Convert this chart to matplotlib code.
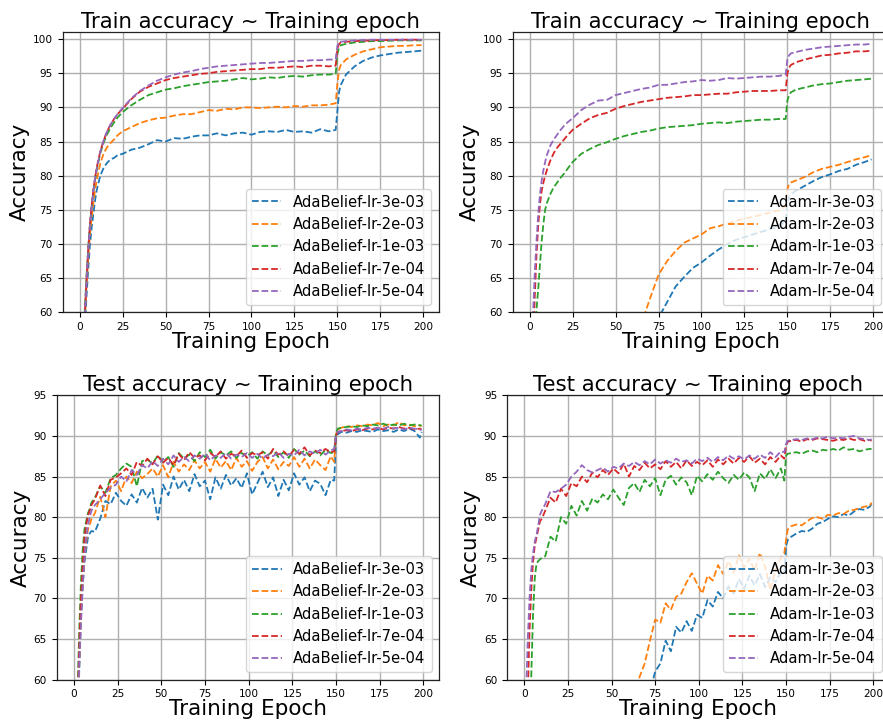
import matplotlib
matplotlib.use("Agg")
import matplotlib.pyplot as plt

train_ep = [0, 1, 2, 3, 4, 5, 6, 7, 8, 9, 10, 12, 14, 16, 18, 20, 22, 25,
            30, 35, 40, 45, 50, 55, 60, 65, 70, 75, 80, 85, 90, 95, 100, 105,
            110, 115, 120, 125, 130, 135, 140, 145, 149, 150, 151, 152,
            155, 160, 165, 170, 175, 180, 185, 190, 195, 199]
test_ep = (list(range(0, 11)) + list(range(12, 148, 3)) + [149, 150, 151]
           + list(range(153, 199, 3)) + [199])

ab_labels = ["AdaBelief-lr-3e-03", "AdaBelief-lr-2e-03", "AdaBelief-lr-1e-03",
             "AdaBelief-lr-7e-04", "AdaBelief-lr-5e-04"]
adam_labels = ["Adam-lr-3e-03", "Adam-lr-2e-03", "Adam-lr-1e-03",
               "Adam-lr-7e-04", "Adam-lr-5e-04"]

# ---- AdaBelief train accuracy ----
ab_train_3e3 = [30, 44, 52, 57.5, 62.5, 66.5, 70, 72.5, 74.5, 76.5, 78, 80, 81.2, 81.9, 82.4, 82.6, 83.0, 83.2,
                83.8, 84.1, 84.6, 85.2, 85.0, 85.5, 85.4, 85.7, 85.9, 85.9, 86.2, 85.9, 86.2, 86.3, 86.0, 86.4,
                86.5, 86.4, 86.7, 86.4, 86.5, 86.3, 86.8, 86.5, 86.7, 89.5, 92.3, 93.3,
                94.8, 96.0, 96.8, 97.3, 97.6, 97.8, 98.0, 98.1, 98.2, 98.3]
ab_train_2e3 = [32, 46, 53.5, 59, 64, 68, 71.5, 74, 76, 78, 79.5, 81.8, 83.3, 84.2, 84.8, 85.3, 85.9, 86.5,
                87.1, 87.7, 88.1, 88.4, 88.5, 88.8, 89.0, 89.0, 89.3, 89.6, 89.5, 89.8, 89.7, 90.0, 90.0, 89.9,
                90.0, 90.1, 90.0, 90.2, 90.1, 90.3, 90.3, 90.4, 90.6, 93.5, 95.5, 96.2,
                97.0, 97.7, 98.2, 98.5, 98.8, 98.9, 99.0, 99.0, 99.1, 99.1]
ab_train_1e3 = [33, 47, 55, 60.5, 65.5, 69.5, 73, 75.5, 77.8, 79.5, 81, 83.3, 84.9, 86.1, 87.0, 87.8, 88.5, 89.3,
                90.3, 91.1, 91.8, 92.2, 92.6, 92.8, 93.1, 93.3, 93.5, 93.7, 93.8, 93.9, 94.1, 94.3, 94.1, 94.2,
                94.4, 94.3, 94.5, 94.6, 94.5, 94.7, 94.8, 94.8, 94.9, 97.8, 98.8, 99.1,
                99.3, 99.5, 99.6, 99.7, 99.7, 99.75, 99.8, 99.8, 99.8, 99.8]
ab_train_7e4 = [31, 46, 54.5, 60, 65, 69.5, 73, 75.8, 78, 79.8, 81.3, 83.6, 85.2, 86.5, 87.5, 88.3, 89.0, 89.8,
                91.2, 92.3, 93.0, 93.5, 94.0, 94.3, 94.5, 94.7, 94.9, 95.0, 95.2, 95.3, 95.4, 95.5, 95.6, 95.6,
                95.8, 95.8, 95.9, 96.0, 95.9, 96.1, 96.1, 96.0, 96.1, 98.6, 99.3, 99.5,
                99.6, 99.7, 99.75, 99.8, 99.85, 99.85, 99.9, 99.9, 99.9, 99.9]
ab_train_5e4 = [30, 45, 54, 59.5, 64.8, 69.2, 72.8, 75.6, 77.9, 79.7, 81.2, 83.5, 85.2, 86.5, 87.5, 88.3, 89.0, 89.9,
                91.3, 92.4, 93.2, 93.9, 94.4, 94.8, 95.1, 95.3, 95.6, 95.8, 96.0, 96.1, 96.2, 96.3, 96.4, 96.5,
                96.5, 96.6, 96.7, 96.8, 96.8, 96.9, 96.9, 97.0, 97.0, 99.0, 99.5, 99.6,
                99.7, 99.8, 99.85, 99.9, 99.9, 99.9, 99.9, 99.9, 99.9, 99.9]

# ---- Adam train accuracy ----
adam_train_3e3 = [10, 15, 19, 22, 24, 26, 27.5, 29, 30, 31, 32, 33.5, 35, 36, 37, 38, 39, 40,
                  42, 44, 46, 48, 50, 52, 54, 56, 57.5, 59.2, 61.5, 63.8, 65.2, 66.5, 67.3, 68.3,
                  69.2, 70.0, 70.6, 71.0, 71.4, 71.8, 72.2, 72.5, 73.5, 76.0, 77.0, 77.3,
                  77.8, 78.5, 79.2, 79.8, 80.2, 80.7, 81.0, 81.6, 82.0, 82.4]
adam_train_2e3 = [10, 16, 20, 23, 25, 27, 28.5, 30, 31, 32, 33, 35, 36.5, 38, 39, 40, 41, 42.5,
                  45, 47, 49, 51, 53, 55, 56.5, 58.3, 62.0, 65.5, 67.5, 69.0, 70.2, 70.8, 71.4, 72.3,
                  72.6, 73.0, 73.4, 73.7, 74.0, 74.3, 74.6, 74.9, 75.5, 78.0, 78.8, 79.0,
                  79.3, 79.8, 80.5, 81.0, 81.3, 81.6, 82.0, 82.4, 82.7, 83.0]
adam_train_1e3 = [20, 35, 45, 52, 60.5, 63.5, 67, 70.5, 73, 75, 76, 77.3, 78.3, 79.0, 79.7, 80.3, 81.0, 82.0,
                  83.2, 83.9, 84.5, 84.9, 85.4, 85.8, 86.1, 86.4, 86.6, 86.9, 87.1, 87.2, 87.3, 87.4, 87.6, 87.7,
                  87.8, 87.7, 87.9, 88.0, 88.1, 88.2, 88.2, 88.3, 88.3, 91.0, 91.8, 92.2,
                  92.6, 92.9, 93.2, 93.4, 93.5, 93.7, 93.9, 94.0, 94.1, 94.2]
adam_train_7e4 = [20, 40, 56, 62.5, 68.5, 72.8, 75.8, 77.8, 79.0, 80.0, 80.8, 82.2, 83.3, 84.1, 84.7, 85.3, 85.9, 86.7,
                  87.6, 88.4, 88.9, 89.2, 89.8, 90.2, 90.5, 90.8, 91.0, 91.2, 91.4, 91.5, 91.6, 91.8, 91.8, 91.9,
                  92.0, 92.0, 92.2, 92.3, 92.4, 92.4, 92.4, 92.5, 92.5, 95.0, 95.8, 96.2,
                  96.6, 97.0, 97.3, 97.6, 97.7, 97.9, 98.0, 98.2, 98.2, 98.3]
adam_train_5e4 = [20, 42, 60, 66, 70.5, 74.5, 77.3, 79.3, 80.8, 82.0, 83.0, 84.4, 85.3, 86.0, 86.7, 87.3, 87.8, 88.4,
                  89.6, 90.4, 91.0, 91.1, 91.8, 92.1, 92.4, 92.7, 92.9, 93.3, 93.3, 93.5, 93.7, 93.8, 94.0, 93.9,
                  94.0, 94.3, 94.2, 94.3, 94.4, 94.5, 94.5, 94.6, 94.8, 97.0, 97.6, 97.9,
                  98.1, 98.4, 98.6, 98.8, 98.9, 99.0, 99.1, 99.2, 99.2, 99.3]

# ---- AdaBelief test accuracy ----
ab_test_3e3 = [20, 38, 52, 61, 67.5, 71.5, 74.5, 76, 77.5, 78, 78.3,
               78.2, 79.8, 82.0, 81.6, 83.0, 82.0, 81.4, 82.8, 81.8, 83.6,
               82.4, 83.5, 79.7, 84.0, 82.7, 85.0, 83.4, 84.6, 83.2, 85.3,
               83.8, 84.5, 82.2, 84.9, 83.5, 85.2, 83.9, 84.8, 83.6, 85.4,
               82.8, 84.2, 85.6, 83.7, 84.9, 82.6, 84.6, 83.3, 85.4, 84.0,
               84.9, 83.2, 84.5, 84.1, 82.7, 84.6,
               84.5, 89.6, 90.2,
               90.5, 90.4, 90.6, 90.5, 90.7, 90.6, 90.5, 90.8, 90.6, 90.7, 90.5, 90.8, 90.6, 90.9, 90.6, 89.8, 90.5]
ab_test_2e3 = [20, 38, 53, 62, 68, 72, 75, 77, 78.5, 79, 79.8,
               80.5, 82.5, 80.0, 83.8, 84.5, 83.2, 85.0, 84.2, 85.6, 84.8,
               85.3, 86.0, 85.0, 86.4, 84.9, 86.8, 85.6, 86.5, 85.8, 87.0,
               86.0, 86.8, 85.6, 87.2, 86.1, 86.9, 85.8, 87.3, 86.2, 86.9,
               85.7, 86.8, 87.4, 86.0, 87.1, 85.9, 86.8, 86.3, 87.4, 86.2,
               87.2, 86.0, 87.1, 86.4, 85.8, 87.5,
               86.8, 90.2, 90.8,
               91.0, 91.2, 91.1, 91.3, 91.2, 91.4, 91.3, 91.6, 91.2, 91.4, 91.3, 91.7, 91.3, 91.4, 91.2, 91.3, 91.2]
ab_test_1e3 = [22, 42, 58, 66, 72, 76, 78.5, 79.5, 80.5, 81, 81.8,
               82.4, 83.8, 83.0, 84.8, 85.2, 86.0, 86.6, 86.2, 83.8, 86.9,
               87.1, 86.6, 87.6, 86.8, 87.4, 86.2, 87.9, 87.2, 87.7, 86.9,
               88.0, 87.4, 88.3, 87.2, 88.0, 87.6, 88.1, 87.3, 87.9, 87.5,
               88.0, 87.2, 88.1, 87.6, 88.2, 87.4, 88.0, 87.3, 88.4, 87.7,
               88.2, 87.5, 88.1, 87.6, 88.3, 87.9,
               88.0, 90.4, 90.9,
               91.0, 91.1, 91.2, 91.1, 91.3, 91.2, 91.4, 91.3, 91.5, 91.3, 91.4, 91.3, 91.5, 91.3, 91.4, 91.3, 91.3]
ab_test_7e4 = [21, 40, 56, 64, 70, 74, 77.5, 79, 80.2, 80.8, 81.5,
               82.2, 83.9, 82.6, 84.6, 84.9, 85.4, 86.0, 85.2, 86.8, 86.3,
               87.2, 86.5, 87.5, 86.7, 87.3, 86.4, 87.8, 87.0, 88.0, 87.3,
               87.6, 87.0, 87.9, 87.4, 88.1, 87.2, 87.8, 87.5, 88.2, 87.3,
               87.9, 87.6, 88.0, 87.2, 88.4, 87.7, 88.1, 87.5, 88.3, 87.8,
               88.6, 87.6, 88.2, 87.9, 88.4, 88.0,
               88.1, 90.0, 90.5,
               90.6, 90.7, 90.6, 90.8, 90.7, 90.9, 90.8, 91.0, 90.8, 91.0, 90.9, 91.1, 90.9, 91.0, 90.8, 90.9, 90.8]
ab_test_5e4 = [20, 38, 54, 62, 67, 71.5, 75, 77.5, 79, 80, 80.8,
               81.5, 82.2, 83.0, 83.6, 84.0, 85.0, 84.4, 85.8, 85.2, 86.4,
               86.0, 86.9, 86.3, 87.2, 86.5, 87.6, 86.8, 87.4, 86.9, 87.6,
               87.2, 87.8, 87.0, 87.6, 87.3, 87.9, 87.2, 87.7, 87.4, 87.9,
               87.3, 87.8, 87.2, 87.7, 87.5, 88.0, 87.3, 87.8, 87.6, 88.3,
               87.6, 88.1, 87.8, 88.3, 87.7, 88.2,
               88.4, 90.1, 90.5,
               90.6, 90.8, 90.7, 90.9, 90.8, 91.0, 90.9, 91.0, 90.9, 91.1, 90.9, 91.0, 90.8, 91.0, 90.9, 90.8, 90.7]

# ---- Adam test accuracy ----
adam_test_3e3 = [10, 12, 14, 15.5, 17, 18, 19, 20, 21, 21.5, 22,
                 23.5, 25, 26.5, 28, 29.5, 31, 32.5, 34, 35.5, 37,
                 38.5, 40, 41.5, 43, 44.5, 46, 48, 50, 52.5, 55.5,
                 58.5, 61.0, 62.0, 64.8, 63.5, 66.5, 65.8, 67.2, 66.0, 68.0,
                 67.6, 69.8, 69.0, 70.8, 70.0, 71.5, 70.6, 72.4, 71.2, 72.8,
                 71.6, 73.0, 71.4, 72.6, 72.0, 73.2,
                 73.0, 76.5, 77.2,
                 77.6, 78.0, 78.3, 78.2, 78.6, 79.2, 79.4, 79.8, 80.1, 80.0, 80.4, 80.2, 80.7, 81.0, 80.9, 81.3, 81.6]
adam_test_2e3 = [10, 12.5, 15, 17, 19, 20.5, 22, 23, 24, 25, 26,
                 27.5, 29.5, 31, 32.5, 34, 35.5, 37, 38.5, 40, 41.5,
                 43, 44.5, 46, 48, 50, 52, 54.5, 57.5, 60.3, 62.0,
                 64.8, 67.4, 67.0, 69.4, 68.6, 70.2, 70.6, 72.0, 73.1, 71.8,
                 70.6, 72.8, 72.2, 74.1, 73.0, 74.6, 73.2, 75.3, 73.8, 74.9,
                 73.4, 75.6, 73.9, 71.0, 73.6, 75.0,
                 75.6, 77.2, 78.5,
                 78.9, 79.1, 79.0, 79.5, 79.9, 80.0, 79.8, 80.3, 80.2, 80.5, 80.4, 80.8, 80.9, 81.1, 81.3, 81.4, 81.8]
adam_test_1e3 = [20, 35, 45, 53, 60.5, 68, 72.5, 74.3, 74.6, 74.8, 75.0,
                 75.2, 77.6, 77.0, 80.0, 79.2, 81.4, 80.2, 82.0, 80.8, 82.3,
                 81.8, 82.8, 82.2, 83.4, 82.4, 81.5, 83.6, 84.2, 83.1, 84.6,
                 83.8, 84.8, 82.7, 84.6, 85.1, 84.0, 84.9, 84.3, 82.7, 85.1,
                 84.4, 85.3, 84.6, 85.6, 84.8, 84.2, 85.2, 84.6, 85.5, 84.9,
                 83.2, 85.4, 84.7, 85.9, 84.8, 86.0,
                 84.5, 87.6, 87.8,
                 87.9, 88.0, 87.8, 88.1, 88.2, 88.0, 88.3, 88.2, 88.4, 88.2, 88.6, 88.3, 88.4, 88.1, 88.3, 88.4, 88.4]
adam_test_7e4 = [20, 45, 58, 66, 71, 74.5, 76.5, 77.5, 78.5, 79.5, 79.8,
                 80.8, 82.4, 81.8, 83.5, 82.6, 84.2, 83.8, 85.0, 84.3, 85.5,
                 84.9, 85.8, 85.2, 86.0, 85.4, 86.6, 85.0, 86.3, 85.8, 86.7,
                 86.0, 86.5, 85.9, 86.9, 86.2, 86.8, 86.0, 87.0, 86.3, 86.8,
                 86.4, 87.0, 86.2, 87.1, 86.5, 87.2, 86.6, 87.3, 86.8, 87.5,
                 86.7, 87.2, 86.5, 87.4, 86.8, 87.6,
                 87.2, 88.8, 89.3,
                 89.4, 89.5, 89.3, 89.6, 89.5, 89.7, 89.6, 89.5, 89.4, 89.6, 89.5, 89.7, 89.5, 89.6, 89.4, 89.5, 89.4]
adam_test_5e4 = [30, 58, 65, 70, 73.5, 75.5, 77.0, 77.8, 79, 80.3, 80.8,
                 81.6, 83.2, 83.1, 83.5, 84.0, 85.0, 85.6, 86.4, 85.8, 85.5,
                 85.8, 86.1, 85.6, 86.2, 86.0, 86.6, 86.3, 86.8, 86.4, 86.9,
                 86.5, 87.1, 86.6, 87.0, 86.7, 87.2, 86.8, 87.0, 86.6, 87.2,
                 86.9, 87.3, 86.8, 87.4, 87.0, 87.6, 87.2, 87.5, 87.1, 87.6,
                 87.2, 87.7, 87.3, 88.0, 87.4, 88.1,
                 88.0, 89.0, 89.4,
                 89.5, 89.6, 89.5, 89.7, 89.6, 89.8, 89.7, 89.9, 89.7, 89.8, 89.7, 89.9, 90.0, 89.7, 89.6, 89.5, 89.6]

colors = ["#1f77b4", "#ff7f0e", "#2ca02c", "#d62728", "#9467bd"]


def draw_panel(ax, ep, series, labels, title, ylim, yticks):
    for vals, lab, c in zip(series, labels, colors):
        ax.plot(ep, vals, linestyle="--", color=c, lw=1.3, label=lab)
    ax.set_xlim(-9.95, 208.95)
    ax.set_ylim(*ylim)
    ax.set_xticks(range(0, 201, 25))
    ax.set_yticks(yticks)
    ax.tick_params(labelsize=7.6, width=0.8, length=3.5)
    ax.grid(True, color="#b0b0b0", lw=1.0)
    for sp in ax.spines.values():
        sp.set_color("#222222")
        sp.set_linewidth(0.9)
    ax.set_title(title, fontsize=15.3, pad=3)
    ax.set_xlabel("Training Epoch", fontsize=15.5, labelpad=0)
    ax.set_ylabel("Accuracy", fontsize=15.5, labelpad=2)
    ax.legend(loc="lower right", fontsize=10.6, framealpha=0.8)


fig = plt.figure(figsize=(8.83, 7.24), dpi=100)
ax1 = fig.add_axes([0.0709, 0.5686, 0.4259, 0.3869])
ax2 = fig.add_axes([0.5805, 0.5686, 0.4259, 0.3869])
ax3 = fig.add_axes([0.0641, 0.0612, 0.4330, 0.3928])
ax4 = fig.add_axes([0.5741, 0.0612, 0.4326, 0.3928])

draw_panel(ax1, train_ep, [ab_train_3e3, ab_train_2e3, ab_train_1e3, ab_train_7e4, ab_train_5e4],
           ab_labels, "Train accuracy ~ Training epoch", (60, 101), range(60, 101, 5))
draw_panel(ax2, train_ep, [adam_train_3e3, adam_train_2e3, adam_train_1e3, adam_train_7e4, adam_train_5e4],
           adam_labels, "Train accuracy ~ Training epoch", (60, 101), range(60, 101, 5))
draw_panel(ax3, test_ep, [ab_test_3e3, ab_test_2e3, ab_test_1e3, ab_test_7e4, ab_test_5e4],
           ab_labels, "Test accuracy ~ Training epoch", (60, 95), range(60, 96, 5))
draw_panel(ax4, test_ep, [adam_test_3e3, adam_test_2e3, adam_test_1e3, adam_test_7e4, adam_test_5e4],
           adam_labels, "Test accuracy ~ Training epoch", (60, 95), range(60, 96, 5))

fig.savefig("out.png", dpi=100)
